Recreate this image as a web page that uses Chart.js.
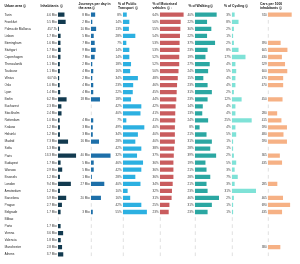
<!DOCTYPE html>
<html><head><meta charset="utf-8">
<script src="https://cdn.jsdelivr.net/npm/chart.js@4.4.1/dist/chart.umd.min.js"></script>
<style>
html,body{margin:0;padding:0;background:#fff;}
#wrap{position:relative;width:300px;height:264px;overflow:hidden;background:#fff;}
#wrap canvas{position:absolute;left:0;top:0;}
</style></head><body><div id="wrap">
<canvas id="c0" width="300" height="264"></canvas>
<canvas id="c1" width="300" height="264"></canvas>
<canvas id="c2" width="300" height="264"></canvas>
<canvas id="c3" width="300" height="264"></canvas>
<canvas id="c4" width="300" height="264"></canvas>
<canvas id="c5" width="300" height="264"></canvas>
<canvas id="c6" width="300" height="264"></canvas>
</div>
<script>
const cities = ["Turin","Frankfurt","Palma de Mallorca","Lisbon","Birmingham","Stuttgart","Copenhagen","Thessaloniki","Toulouse","Vilnius","Oslo","Lyon","Berlin","Bucharest","Stockholm","Rotterdam","Krakow","Helsinki","Madrid","Sofia","Paris","Budapest","Warsaw","Brussels","London","Amsterdam","Barcelona","Prague","Belgrade","Bilbao","Porto","Vienna","Valencia","Manchester","Athens"];
const inhabitants = [4.6,5.5,0.4577,1.7,1.6,1.7,1.6,1.1,1.1,0.6076,1.0,1.4,6.2,2.3,2.4,1.0,1.2,1.2,7.3,1.3,13.3,1.7,2.9,1.2,9.4,1.2,5.9,2.7,1.7,null,1.7,3.6,1.8,2.8,3.7];
const journeys = [8,2,10,5,7,9,7,2,4,2,4,4,18,null,null,4,3,3,16,null,40,5,5,1,27,null,20,null,3,null,null,null,null,null,null];
const publicTransport = [8,14,13,28,7,14,14,18,16,34,23,22,18,42,40,7,49,34,28,42,32,46,42,28,40,10,16,42,55,null,null,null,null,null,null];
const motorised = [64,56,55,54,53,53,52,52,50,48,46,45,44,42,41,41,40,40,40,38,37,36,36,36,34,32,31,25,23,null,null,null,null,null,null];
const walking = [40,22,30,22,37,23,19,27,24,15,23,31,23,14,13,24,8,21,31,28,39,19,21,28,21,23,46,31,23,null,null,null,null,null,null];
const cycling = [3,8,2,1,2,8,17,4,5,4,4,2,12,4,4,25,4,5,1,1,2,5,3,7,3,31,2,1,1,null,null,null,null,null,null];
const carsPer1000 = [740,null,null,null,390,605,430,529,600,470,470,null,450,null,280,415,590,480,590,null,365,435,null,null,285,null,465,690,435,null,null,null,null,380,null];

const nameHeader = ["Urban area ⓘ"];
const fmtPct = v => v + "%";
const columns = [
  {data: inhabitants, color: "#123a4f", start: 58, max: 18, header: ["Inhabitants ⓘ"], hx: 40.5,
   fmt: v => v >= 1 ? v.toFixed(1) + " Mio" : (v * 1000).toFixed(1) + "k"},
  {data: journeys, color: "#1d6fa9", start: 91, max: 50, header: ["Journeys per day in", "the area ⓘ"], hx: 78.5,
   fmt: v => v + " Mio"},
  {data: publicTransport, color: "#2cb0e1", start: 123, max: 56, header: ["% of Public", "Transport ⓘ"], hx: 118, fmt: fmtPct},
  {data: motorised, color: "#c95c5e", start: 160, max: 66, header: ["% of Motorised", "vehicles ⓘ ↓"], hx: 152.5, fmt: fmtPct},
  {data: walking, color: "#2ba7a2", start: 195, max: 45, header: ["% of Walking ⓘ"], hx: 188.5, fmt: fmtPct},
  {data: cycling, color: "#7fe2d7", start: 232, max: 31, header: ["% of Cycling ⓘ"], hx: 224, fmt: fmtPct},
  {data: carsPer1000, color: "#f6b185", start: 268, max: 760, header: ["Cars per 1000", "inhabitants ⓘ"], hx: 260, fmt: v => String(v)}
];
const BAR_W = 24;
const FONT = '"Liberation Sans", Arial, sans-serif';

function drawHeader(ctx, lines, x) {
  ctx.save();
  ctx.font = "bold 3.4px " + FONT;
  ctx.fillStyle = "#111";
  ctx.textAlign = "left";
  ctx.textBaseline = "middle";
  lines.forEach((t, j) => ctx.fillText(t, x, lines.length === 1 ? 6 : 4.3 + j * 3.7));
  ctx.restore();
}

function makePlugin(col, idx) {
  return {
    id: "col" + idx,
    beforeDatasetsDraw(chart) {
      const ctx = chart.ctx, xs = chart.scales.x, ys = chart.scales.y;
      const x0 = xs.getPixelForValue(0);
      ctx.save();
      ctx.strokeStyle = "#c9c9c9";
      ctx.lineWidth = 0.6;
      cities.forEach((_, i) => {
        const y = ys.getPixelForValue(i);
        ctx.beginPath(); ctx.moveTo(x0 + 0.3, y - 1.8); ctx.lineTo(x0 + 0.3, y + 1.8); ctx.stroke();
      });
      ctx.restore();
    },
    afterDatasetsDraw(chart) {
      const ctx = chart.ctx, xs = chart.scales.x, ys = chart.scales.y;
      const x0 = xs.getPixelForValue(0);
      ctx.save();
      ctx.font = "3.1px " + FONT;
      ctx.fillStyle = "#3a3a3a";
      ctx.textAlign = "right";
      ctx.textBaseline = "middle";
      col.data.forEach((v, i) => {
        if (v == null) return;
        ctx.fillText(col.fmt(v), x0 - 1.2, ys.getPixelForValue(i));
      });
      ctx.restore();
      drawHeader(ctx, col.header, col.hx);
      if (idx === 0) drawHeader(ctx, nameHeader, 4.5);
    }
  };
}

columns.forEach((col, idx) => {
  const first = idx === 0;
  new Chart(document.getElementById("c" + idx), {
    type: "bar",
    data: {labels: cities, datasets: [{data: col.data, backgroundColor: col.color, barThickness: 3.6, borderWidth: 0}]},
    options: {
      indexAxis: "y", responsive: false, animation: false,
      layout: {padding: {left: first ? 4.5 : col.start, right: 300 - col.start - BAR_W, top: 11.2, bottom: 6.2}},
      plugins: {legend: {display: false}, tooltip: {enabled: false}, title: {display: false}},
      scales: {
        x: {display: false, min: 0, max: col.max},
        y: {
          display: first,
          grid: {display: false}, border: {display: false},
          ticks: {autoSkip: false, crossAlign: "far", padding: 0, color: "#222", font: {size: 3.2, family: FONT}},
          afterFit: first ? (s => { s.width = col.start - 4.5; }) : undefined
        }
      }
    },
    plugins: [makePlugin(col, idx)]
  });
});
</script>
</body></html>
